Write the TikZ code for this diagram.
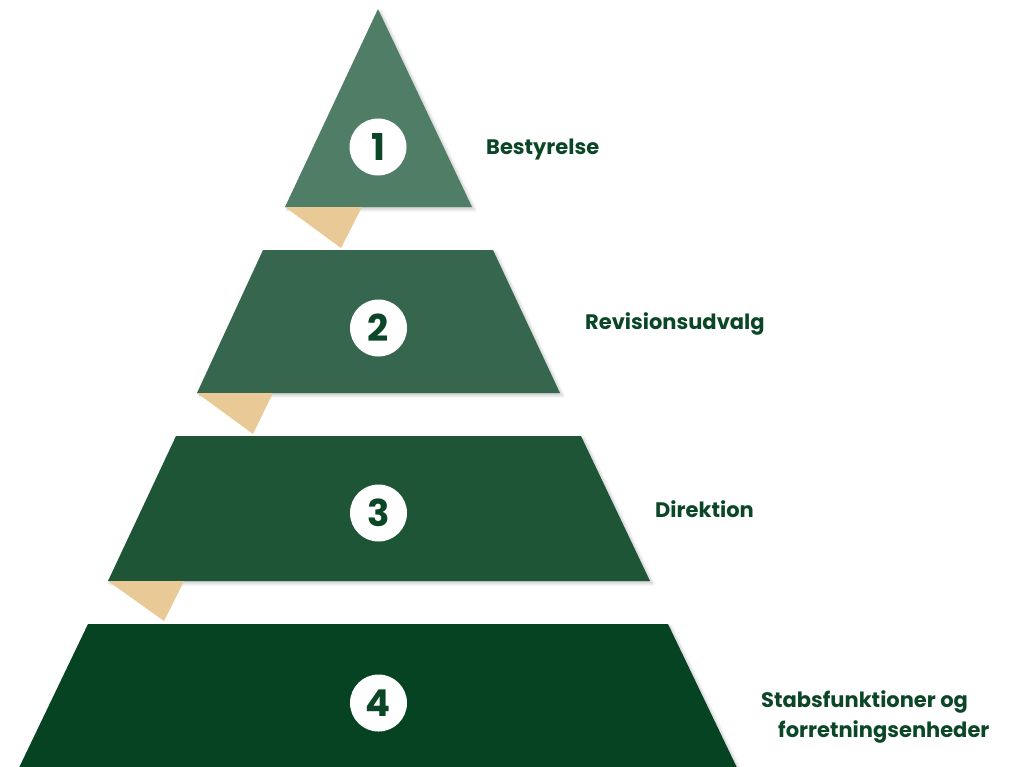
\documentclass[tikz,border=0pt]{standalone}
\usepackage{fontspec}
\setmainfont{Poppins}
\usetikzlibrary{shadows.blur}
\definecolor{tierA}{HTML}{4F7D66}
\definecolor{tierB}{HTML}{37664F}
\definecolor{tierC}{HTML}{1F5537}
\definecolor{tierD}{HTML}{054322}
\definecolor{fold}{HTML}{E9CA96}
\definecolor{txt}{HTML}{0B4726}
\tikzset{
  tier/.style={blur shadow={shadow xshift=2.5pt, shadow yshift=-2.5pt, shadow opacity=22, shadow blur steps=6, shadow blur radius=3pt}},
  foldtri/.style={fill=fold},
  numcirc/.style={circle, fill=white, minimum size=57pt, inner sep=0pt, text=txt, font=\fontsize{37}{37}\selectfont\bfseries},
  lbl/.style={anchor=base west, inner sep=0pt, text=txt, font=\fontsize{21}{30}\selectfont\bfseries}
}
\begin{document}
\begin{tikzpicture}[x=1pt,y=-1pt]
\useasboundingbox (0,0) rectangle (1016,766);
% tiers
\fill[tierA, tier] (378,9) -- (472,207) -- (285,207) -- cycle;
\fill[tierB, tier] (263,250) -- (493,250) -- (560,393) -- (197,393) -- cycle;
\fill[tierC, tier] (176,436) -- (581,436) -- (650,581) -- (108,581) -- cycle;
\fill[tierD, tier] (88,624) -- (668,624) -- (740,774) -- (16,774) -- cycle;
% folds
\fill[foldtri] (285,207) -- (362,207) -- (341,248) -- cycle;
\fill[foldtri] (197,393) -- (273,393) -- (253,434) -- cycle;
\fill[foldtri] (108,581) -- (184,581) -- (164,621) -- cycle;
% numbers
\node[numcirc] (n1) at (378,147) {1};
\node[numcirc] (n2) at (378.5,328) {2};
\node[numcirc] (n3) at (378.5,513) {3};
\node[numcirc] (n4) at (378.5,703) {4};
% labels
\node[lbl] (l1) at (486,154) {Bestyrelse};
\node[lbl] (l2) at (585,329) {Revisionsudvalg};
\node[lbl] (l3) at (655,517) {Direktion};
\node[lbl, align=left] (l4) at (761,737) {Stabsfunktioner og\\\hspace*{17pt}forretningsenheder};
\end{tikzpicture}
\end{document}
